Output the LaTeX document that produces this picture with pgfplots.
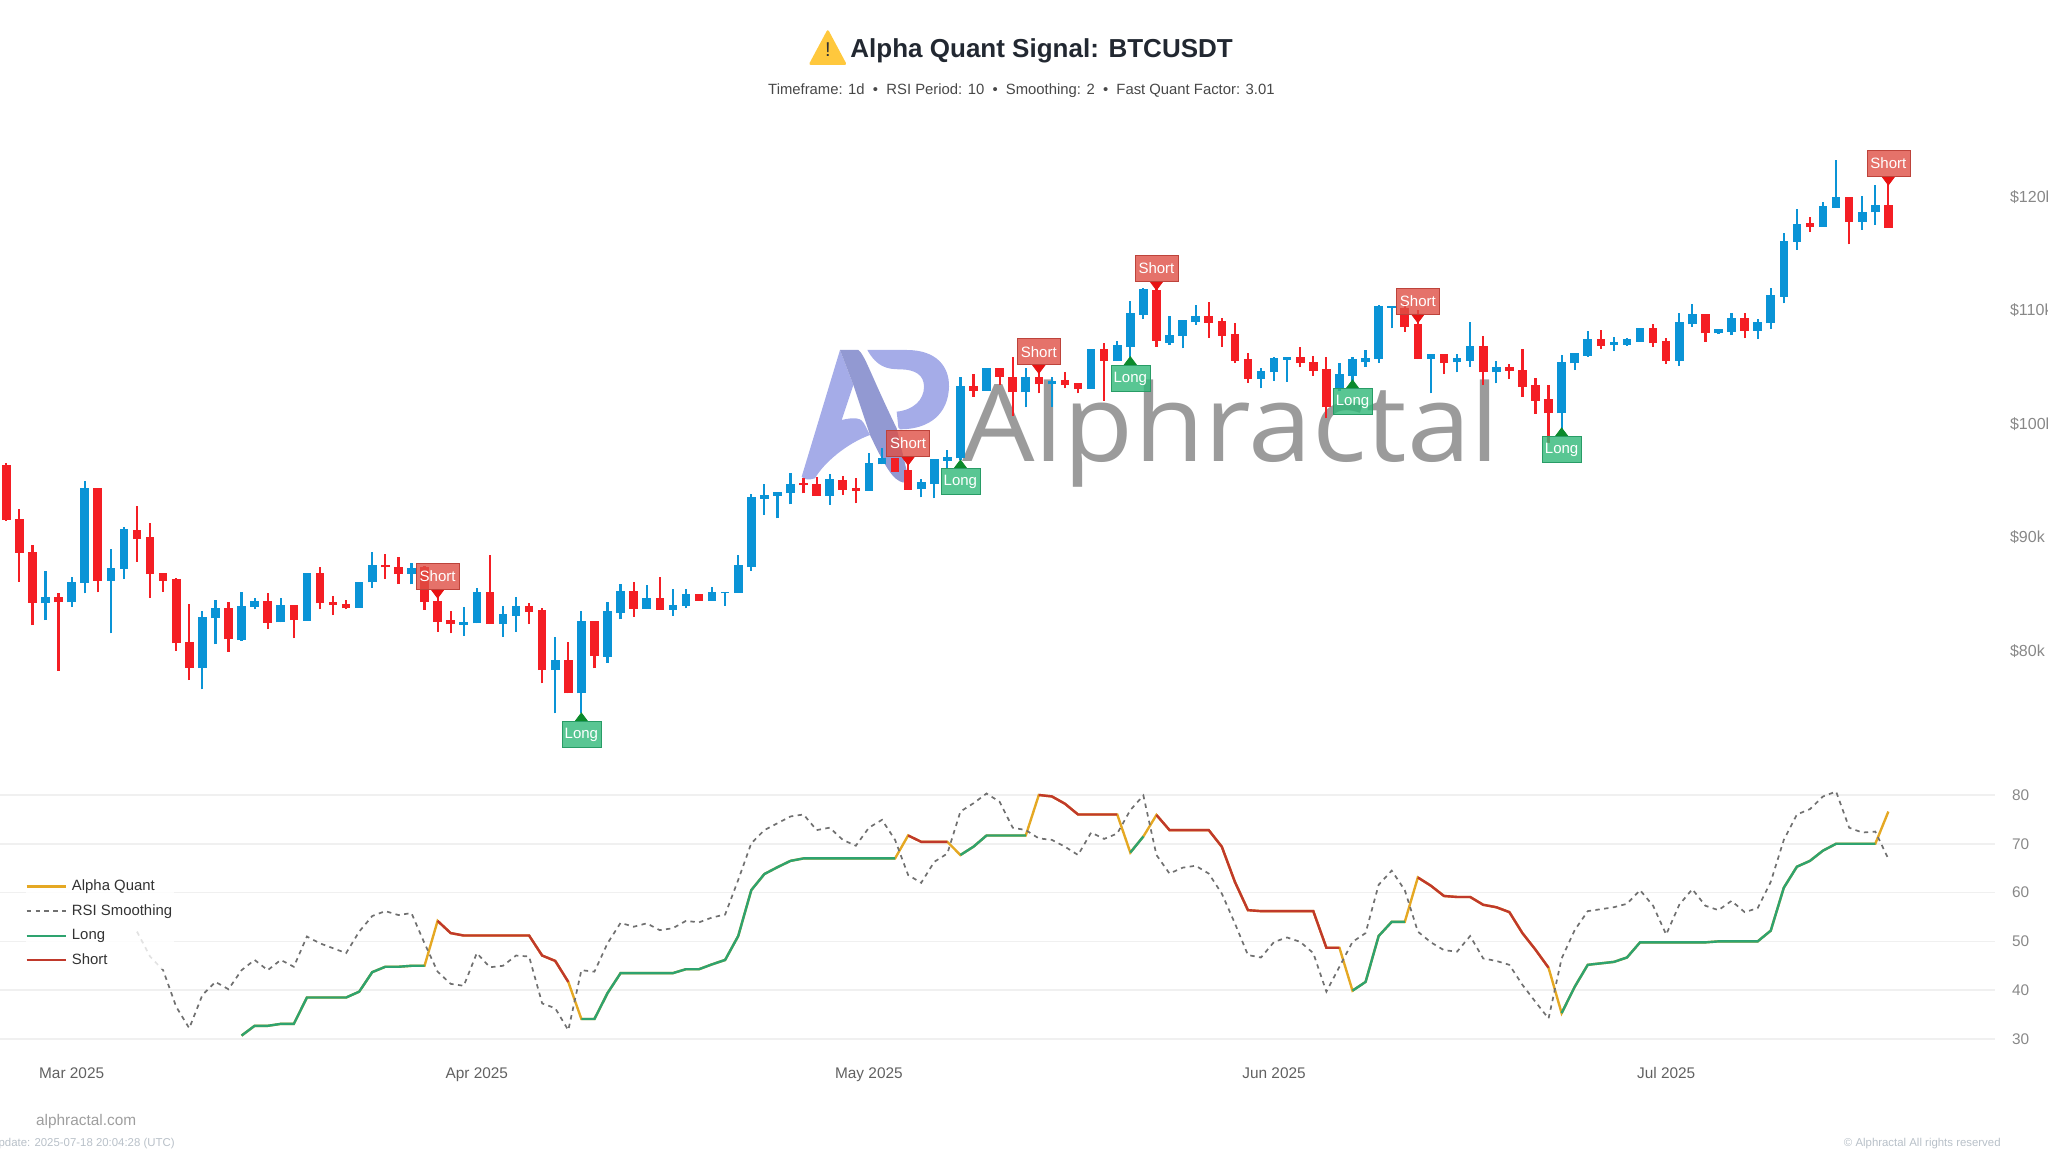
\documentclass[border=0pt]{standalone}
\usepackage{pgfplots}
\usepackage{pgfplotstable}
\usepackage{fontspec}
\pgfplotsset{compat=1.18}
\setmainfont{Liberation Sans}
\newfontfamily\wmfont[FakeStretch=1.066]{Open Sans}
\definecolor{cup}{HTML}{0A94D6}
\definecolor{cdn}{HTML}{F41E24}
\definecolor{aq}{HTML}{E5A823}
\definecolor{lg}{HTML}{2EA36F}
\definecolor{sh}{HTML}{C0392B}
\definecolor{rs}{HTML}{707070}
\definecolor{gr}{HTML}{F0F0F0}
\definecolor{tk}{HTML}{888888}
\definecolor{lshort}{HTML}{DE4F45}
\definecolor{llong}{HTML}{2FB878}
\definecolor{tshort}{HTML}{E81212}
\definecolor{tlong}{HTML}{0B8A2C}
\definecolor{logoL}{HTML}{A5ACE8}
\definecolor{logoD}{HTML}{9299D2}
\definecolor{wm}{HTML}{9B9B9B}
\definecolor{warn}{HTML}{FFC83D}

\pgfplotstableread{
i t b h l
3 84.73 84.14 86.99 82.67
5 86.05 84.23 86.49 83.85
6 94.27 85.96 94.94 85.02
8 87.28 86.11 88.90 81.50
9 90.66 87.16 90.89 86.28
15 82.97 78.48 83.50 76.57
16 83.70 82.82 84.44 80.56
18 83.94 80.91 85.17 80.83
19 84.38 83.85 84.58 83.61
21 83.99 82.47 84.64 82.47
23 86.84 82.59 86.84 82.59
27 86.05 83.76 86.05 83.76
28 87.52 85.99 88.63 85.52
31 87.28 86.73 87.66 85.82
35 82.53 82.24 83.85 81.27
36 85.17 82.38 85.46 82.38
38 83.20 82.32 83.91 81.21
39 83.91 83.06 84.67 81.65
42 79.15 78.27 81.15 74.46
44 82.62 76.22 83.50 74.46
46 83.47 79.45 84.23 78.92
47 85.26 83.26 85.82 82.73
49 84.58 83.64 85.76 83.64
51 84.00 83.56 85.40 83.06
52 84.94 83.91 85.38 83.70
54 85.11 84.38 85.61 84.38
55 85.17 85.02 85.17 83.91
56 87.52 85.08 88.40 85.08
57 93.47 87.31 93.77 87.02
58 93.68 93.33 94.65 91.92
59 93.97 93.62 93.97 91.63
60 94.64 93.82 95.64 92.85
63 95.05 93.62 95.49 92.80
66 96.52 94.06 97.34 94.06
67 96.90 96.37 97.78 96.37
70 94.79 94.17 95.08 93.47
71 96.82 94.64 96.82 93.38
72 97.05 96.70 97.64 96.02
73 103.27 96.90 104.09 96.76
75 104.83 102.86 104.83 102.86
78 104.09 102.71 104.88 101.39
80 103.74 103.42 104.09 101.39
83 106.50 103.01 106.50 103.01
85 106.88 105.47 107.26 105.47
86 109.73 106.68 110.76 105.86
87 111.82 109.53 111.93 109.15
89 107.77 107.09 109.44 106.89
90 109.09 107.68 109.09 106.59
91 109.47 108.88 110.41 108.65
96 104.63 103.89 104.83 103.07
97 105.71 104.48 105.80 103.75
98 105.86 105.57 105.86 103.66
102 104.33 103.07 105.27 102.80
103 105.63 104.16 105.80 103.37
104 105.77 105.36 106.45 104.98
105 110.35 105.63 110.41 105.33
106 110.32 110.17 110.32 108.35
109 106.07 105.63 106.07 102.63
111 105.71 105.36 106.10 104.48
112 106.83 105.51 108.94 104.98
114 104.98 104.48 105.51 103.51
119 105.42 100.87 106.01 98.82
120 106.15 105.27 106.15 104.68
121 107.38 105.92 108.12 105.86
123 107.18 106.88 107.62 106.36
124 107.38 106.88 107.50 106.80
125 108.41 107.18 108.41 107.18
128 108.88 105.51 109.67 105.07
129 109.58 108.70 110.49 108.50
131 108.26 107.91 108.30 107.85
132 109.29 108.06 109.67 107.76
134 108.94 108.15 109.17 107.41
135 111.29 108.79 111.93 108.29
136 116.07 111.14 116.77 110.55
137 117.54 115.98 118.86 115.25
139 119.12 117.30 119.44 117.30
140 119.88 118.97 123.17 118.97
142 118.62 117.74 120.03 117.01
143 119.21 118.56 120.97 117.45
}\candlesUp

\pgfplotstableread{
i t b h l
0 96.32 91.48 96.47 91.42
1 91.54 88.60 92.45 86.05
2 88.69 84.20 89.28 82.23
4 84.73 84.23 85.02 78.21
7 94.27 86.14 94.27 85.11
10 90.60 89.80 92.74 87.81
11 89.95 86.69 91.21 84.64
12 86.78 86.14 86.78 85.17
13 86.25 80.62 86.40 79.95
14 80.74 78.48 84.05 77.39
17 83.70 80.97 84.23 79.89
20 84.35 82.44 85.02 81.88
22 83.99 82.67 83.99 81.06
24 86.84 84.14 87.37 83.61
25 84.23 83.99 84.79 83.11
26 84.05 83.70 84.44 83.61
29 87.55 87.31 88.46 86.28
30 87.37 86.75 88.18 85.84
32 87.31 84.29 87.43 83.56
33 84.38 82.53 85.00 81.65
34 82.68 82.29 83.47 81.50
37 85.17 82.32 88.40 82.32
40 83.91 83.41 84.20 82.32
41 83.56 78.27 83.70 77.10
43 79.15 76.22 80.77 76.22
45 82.62 79.51 82.62 78.42
48 85.26 83.64 86.05 82.97
50 84.58 83.56 86.43 83.56
53 84.94 84.38 84.94 84.38
61 94.76 94.56 95.14 93.82
62 94.64 93.62 95.29 93.62
64 95.00 94.12 95.38 93.68
65 94.26 94.06 95.14 92.94
68 96.90 95.73 96.90 95.73
69 95.88 94.12 97.05 94.12
74 103.30 102.86 104.30 102.33
76 104.83 104.09 104.83 103.36
77 104.09 102.71 105.79 100.66
79 104.09 103.42 104.83 102.62
81 103.80 103.36 104.47 103.07
82 103.56 102.98 103.56 102.62
84 106.50 105.47 107.03 101.98
88 111.73 107.24 112.46 106.74
92 109.47 108.85 110.70 107.53
93 109.03 107.68 109.23 106.74
94 107.83 105.48 108.79 105.33
95 105.63 103.87 106.21 103.57
99 105.86 105.27 106.74 104.92
100 105.42 104.60 105.95 104.19
101 104.75 101.40 105.86 100.43
107 110.10 108.50 110.50 108.06
108 108.74 105.63 110.00 105.63
110 106.10 105.33 106.10 104.31
113 106.83 104.48 107.71 103.37
115 104.98 104.63 105.21 103.89
116 104.69 103.22 106.51 102.34
117 103.37 101.99 103.95 100.81
118 102.13 100.87 103.37 98.23
122 107.41 106.83 108.20 106.53
126 108.41 107.03 108.73 106.74
127 107.24 105.48 107.47 105.21
130 109.61 107.91 109.61 107.18
133 109.29 108.15 109.67 107.47
138 117.59 117.24 118.18 116.86
141 119.88 117.74 119.88 115.75
144 119.21 117.21 121.26 117.21
}\candlesDown

\pgfplotstableread{
i aq rsi long short
10 nan 52.0 nan nan
11 nan 46.9 nan nan
12 nan 44.1 nan nan
13 nan 36.6 nan nan
14 nan 32.2 nan nan
15 nan 39.0 nan nan
16 nan 41.7 nan nan
17 nan 40.2 nan nan
18 30.7 44.1 30.7 nan
19 32.7 46.2 32.7 nan
20 32.7 44.1 32.7 nan
21 33.1 46.2 33.1 nan
22 33.1 44.8 33.1 nan
23 38.5 51.0 38.5 nan
24 38.5 49.6 38.5 nan
25 38.5 48.6 38.5 nan
26 38.5 47.6 38.5 nan
27 39.7 52.0 39.7 nan
28 43.7 55.2 43.7 nan
29 44.8 56.2 44.8 nan
30 44.8 55.4 44.8 nan
31 45.0 55.8 45.0 nan
32 45.0 49.6 45.0 nan
33 54.2 43.8 nan 54.2
34 51.7 41.3 nan 51.7
35 51.2 40.9 nan 51.2
36 51.2 47.6 nan 51.2
37 51.2 44.7 nan 51.2
38 51.2 45.0 nan 51.2
39 51.2 47.1 nan 51.2
40 51.2 46.9 nan 51.2
41 47.1 37.3 nan 47.1
42 46.0 36.3 nan 46.0
43 41.7 31.8 nan 41.7
44 34.1 44.1 34.1 nan
45 34.1 43.8 34.1 nan
46 39.4 49.6 39.4 nan
47 43.5 53.8 43.5 nan
48 43.5 53.0 43.5 nan
49 43.5 53.7 43.5 nan
50 43.5 52.3 43.5 nan
51 43.5 52.7 43.5 nan
52 44.3 54.2 44.3 nan
53 44.3 53.9 44.3 nan
54 45.3 54.9 45.3 nan
55 46.2 55.5 46.2 nan
56 51.1 62.6 51.1 nan
57 60.5 70.1 60.5 nan
58 63.8 72.8 63.8 nan
59 65.2 74.2 65.2 nan
60 66.5 75.6 66.5 nan
61 67.0 76.0 67.0 nan
62 67.0 72.8 67.0 nan
63 67.0 73.3 67.0 nan
64 67.0 70.8 67.0 nan
65 67.0 69.6 67.0 nan
66 67.0 73.3 67.0 nan
67 67.0 74.9 67.0 nan
68 67.0 70.8 67.0 nan
69 71.7 63.6 nan 71.7
70 70.4 62.0 nan 70.4
71 70.4 66.3 nan 70.4
72 70.4 68.0 nan 70.4
73 67.7 76.6 67.7 nan
74 69.4 78.3 69.4 nan
75 71.7 80.3 71.7 nan
76 71.7 78.6 71.7 nan
77 71.7 73.3 71.7 nan
78 71.7 72.8 71.7 nan
79 80.0 71.1 nan 80.0
80 79.7 70.8 nan 79.7
81 78.2 69.4 nan 78.2
82 76.0 67.7 nan 76.0
83 76.0 72.3 nan 76.0
84 76.0 71.0 nan 76.0
85 76.0 72.1 nan 76.0
86 68.2 76.9 68.2 nan
87 71.5 79.9 71.5 nan
88 75.9 67.7 nan 75.9
89 72.8 63.9 nan 72.8
90 72.8 65.1 nan 72.8
91 72.8 65.5 nan 72.8
92 72.8 63.9 nan 72.8
93 69.4 59.8 nan 69.4
94 62.2 53.7 nan 62.2
95 56.4 47.2 nan 56.4
96 56.2 46.7 nan 56.2
97 56.2 49.9 nan 56.2
98 56.2 50.8 nan 56.2
99 56.2 49.9 nan 56.2
100 56.2 47.6 nan 56.2
101 48.7 39.7 nan 48.7
102 48.7 44.8 nan 48.7
103 39.9 49.9 39.9 nan
104 41.7 51.7 41.7 nan
105 51.1 61.6 51.1 nan
106 54.0 64.5 54.0 nan
107 54.0 60.5 54.0 nan
108 63.1 52.0 nan 63.1
109 61.4 49.8 nan 61.4
110 59.3 48.2 nan 59.3
111 59.1 47.9 nan 59.1
112 59.1 51.1 nan 59.1
113 57.5 46.5 nan 57.5
114 57.0 46.0 nan 57.0
115 56.0 45.2 nan 56.0
116 51.7 41.1 nan 51.7
117 48.3 37.6 nan 48.3
118 44.6 34.2 nan 44.6
119 35.3 46.5 35.3 nan
120 40.7 52.3 40.7 nan
121 45.2 56.2 45.2 nan
122 45.5 56.6 45.5 nan
123 45.8 57.0 45.8 nan
124 46.7 57.7 46.7 nan
125 49.8 60.5 49.8 nan
126 49.8 57.3 49.8 nan
127 49.8 51.4 49.8 nan
128 49.8 57.5 49.8 nan
129 49.8 60.7 49.8 nan
130 49.8 57.3 49.8 nan
131 50.0 56.4 50.0 nan
132 50.0 58.3 50.0 nan
133 50.0 56.0 50.0 nan
134 50.0 56.8 50.0 nan
135 52.2 62.2 52.2 nan
136 61.0 70.8 61.0 nan
137 65.3 76.0 65.3 nan
138 66.5 77.1 66.5 nan
139 68.6 79.7 68.6 nan
140 70.0 80.7 70.0 nan
141 70.0 73.3 70.0 nan
142 70.0 72.3 70.0 nan
143 70.0 72.5 70.0 nan
144 76.6 66.9 nan nan
}\rsiTable

\pgfplotsset{
  base/.style={
    scale only axis, width=997.5pt, xmin=-0.482, xmax=152.16,
    clip=false, axis line style={draw=none}, major tick length=0pt,
    tick style={draw=none}, /pgf/number format/assume math mode=true,
    unbounded coords=jump,
  },
  wick/.style={draw=none, mark=none, forget plot,
    error bars/.cd, y dir=plus, y explicit, error mark=none,
    error bar style={line width=1.1pt, #1}},
  body/.style={draw=none, mark=none, forget plot,
    error bars/.cd, y dir=plus, y explicit, error mark=none,
    error bar style={line width=4.3pt, #1}},
}

\begin{document}
\begin{tikzpicture}
\path[use as bounding box] (0,0) rectangle (1024pt,576pt);
\clip (0,0) rectangle (1024pt,576pt);

% watermark
\begin{scope}[shift={(395pt,406pt)},x=0.16667pt,y=-0.16667pt]
\fill[logoL] (150,30) -- (35,410) .. controls (40,420) and (60,420) .. (75,415) .. controls (100,370) and (170,310) .. (240,285) -- (222,250) .. controls (215,235) and (195,230) .. (155,240) -- (190,135) -- cycle;
\fill[logoD] (150,30) -- (205,30) .. controls (225,45) and (240,100) .. (320,265) -- (352,400) -- (340,428) .. controls (310,420) and (290,390) .. (240,285) -- (190,135) -- cycle;
\fill[logoL] (232,30) -- (350,30) .. controls (440,30) and (478,80) .. (477,140) .. controls (475,220) and (420,268) .. (330,268) -- (325,262) -- (320,215) .. controls (370,210) and (402,180) .. (402,140) .. controls (402,105) and (375,88) .. (330,88) .. controls (290,88) and (260,80) .. (232,30) -- cycle;
\end{scope}

\begin{scope}[x=0.5pt,y=-0.5pt,shift={(0pt,576pt)}]
\node[anchor=base west,inner sep=0pt,text=wm] at (962,461.7) {\wmfont\fontsize{53.7}{60}\selectfont Alphractal};
% title block
\fill[fill=warn,rounded corners=1.2pt] (827.8,29) -- (808.5,65) -- (847,65) -- cycle;
\node[text=black!80,inner sep=0pt] at (827.8,50) {\fontsize{10}{12}\selectfont !};
\node[anchor=base,inner sep=0pt,text={rgb,255:red,34;green,40;blue,49}] at (1041.6,58) {\fontsize{13}{16}\selectfont\bfseries Alpha Quant Signal: BTCUSDT};
\node[anchor=base,inner sep=0pt,text=black!72] at (1021.4,95) {\fontsize{7.42}{9}\selectfont Timeframe: 1d\ \ •\ \ RSI Period: 10\ \ •\ \ Smoothing: 2\ \ •\ \ Fast Quant Factor: 3.01};
% footer
\node[anchor=base west,inner sep=0pt,text=black!38] at (35.7,1125) {\fontsize{7.7}{9}\selectfont alphractal.com};
\node[anchor=base east,inner sep=0pt,text={rgb,255:red,184;green,192;blue,200}] at (175,1146) {\fontsize{5.7}{7}\selectfont Update: 2025-07-18 20:04:28 (UTC)};
\node[anchor=base east,inner sep=0pt,text={rgb,255:red,184;green,192;blue,200}] at (2001,1146) {\fontsize{5.7}{7}\selectfont © Alphractal All rights reserved};
\end{scope}

% candles
\begin{axis}[base, at={(0pt,186pt)}, anchor=south west, height=325pt,
  ymin=68.59, ymax=125.81, xtick=\empty,
  ytick={80,90,100,110,120},
  yticklabels={\$80k,\$90k,\$100k,\$110k,\$120k},
  yticklabel pos=right,
  yticklabel style={anchor=west, text=tk, font=\fontsize{8}{9}\selectfont, xshift=4pt, yshift=-0.4pt},
]
\addplot[wick=cup] table[x=i,y=l,y error expr=\thisrow{h}-\thisrow{l}] {\candlesUp};
\addplot[body=cup] table[x=i,y=b,y error expr=\thisrow{t}-\thisrow{b}] {\candlesUp};
\addplot[wick=cdn] table[x=i,y=l,y error expr=\thisrow{h}-\thisrow{l}] {\candlesDown};
\addplot[body=cdn] table[x=i,y=b,y error expr=\thisrow{t}-\thisrow{b}] {\candlesDown};
% signals
\addplot[tshort, only marks, mark=triangle*, mark size=2.8pt,
  mark options={solid, draw=tshort, fill=tshort, rotate=180, xscale=1.3},
  nodes near coords={Short},
  every node near coord/.style={anchor=south, yshift=1.4pt, inner sep=0pt,
    minimum width=21.5pt, minimum height=13pt, fill=lshort, fill opacity=0.8,
    text opacity=1, text=white, draw=lshort!85!black, line width=0.3pt,
    font=\fontsize{7.5}{9}\selectfont}]
 coordinates {(33,85.10)(69,96.81)(79,104.88)(88,112.22)(108,109.34)(144,121.46)};
\addplot[tlong, only marks, mark=triangle*, mark size=2.8pt,
  mark options={solid, draw=tlong, fill=tlong, xscale=1.3},
  nodes near coords={Long},
  every node near coord/.style={anchor=north, yshift=-1.4pt, inner sep=0pt,
    minimum width=19.5pt, minimum height=13pt, fill=llong, fill opacity=0.8,
    text opacity=1, text=white, draw=llong!85!black, line width=0.3pt,
    font=\fontsize{7.5}{9}\selectfont}]
 coordinates {(44,74.00)(73,96.27)(86,105.36)(103,103.31)(119,99.09)};
\end{axis}

% RSI panel
\begin{axis}[base, at={(0pt,56.5pt)}, anchor=south west, height=126.9pt,
  ymin=30, ymax=82, ytick={30,40,50,60,70,80},
  ymajorgrids, grid style={gr, line width=0.8pt},
  yticklabel pos=right,
  yticklabel style={anchor=west, text=tk, font=\fontsize{7.7}{9}\selectfont, xshift=5pt},
  xtick={5,36,66,97,127},
  xticklabels={Mar 2025,Apr 2025,May 2025,Jun 2025,Jul 2025},
  xticklabel style={text=black!62, font=\fontsize{7.7}{9}\selectfont, text height=6pt, text depth=2pt, yshift=-10pt},
  legend style={at={(0.0126,0.638)}, anchor=north west, draw=none, fill=white,
    fill opacity=0.8, text opacity=1, font=\fontsize{7.45}{9}\selectfont,
    text=black!80, row sep=3.5pt, inner sep=0pt, nodes={inner sep=1pt}},
  legend cell align=left,
  legend image code/.code={\draw[#1] (0pt,0pt) -- (19.5pt,0pt); \path (21pt,0pt);},
]
\addplot[aq, line width=1.2pt] table[x=i,y=aq] {\rsiTable};
\addlegendentry{Alpha Quant}
\addplot[rs, line width=0.85pt, dash pattern=on 2.2pt off 2.2pt] table[x=i,y=rsi] {\rsiTable};
\addlegendentry{RSI Smoothing}
\addplot[lg, line width=1.2pt] table[x=i,y=long] {\rsiTable};
\addlegendentry{Long}
\addplot[sh, line width=1.2pt] table[x=i,y=short] {\rsiTable};
\addlegendentry{Short}
\end{axis}
\end{tikzpicture}
\end{document}
